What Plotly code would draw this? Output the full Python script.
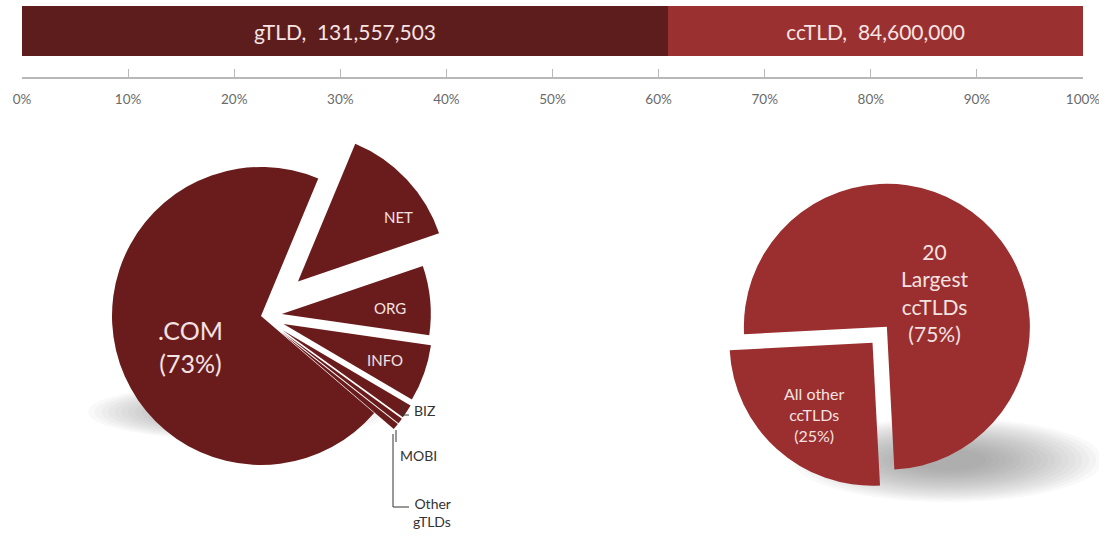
import plotly.graph_objects as go

# ---------------- data ----------------
tld_names = ["gTLD", "ccTLD"]
tld_counts = [131557503, 84600000]
tld_colors = ["#5e1d1d", "#9a3030"]

tick_vals = [0, 10, 20, 30, 40, 50, 60, 70, 80, 90, 100]
tick_text = ["0%", "10%", "20%", "30%", "40%", "50%", "60%", "70%", "80%", "90%", "100%"]

gtld_names = ["NET", "ORG", "INFO", "BIZ", "MOBI", "Other gTLDs", ".COM"]
gtld_share = [13.5, 7.5, 6.2, 1.5, 0.6, 0.7, 70.0]
gtld_pull = [0.34, 0.14, 0.16, 0.17, 0.17, 0.17, 0]

cctld_names = ["20 Largest ccTLDs", "All other ccTLDs"]
cctld_share = [75, 25]
cctld_pull = [0.03, 0.12]

W, H = 1099, 538
FONT = "Lato"


def px(x):
    return x / W


def py(y):
    return 1 - y / H


fig = go.Figure()

# ---------------- top stacked bar ----------------
for name, cnt, col in zip(tld_names, tld_counts, tld_colors):
    fig.add_trace(go.Bar(
        x=[cnt], y=[0], orientation="h", name=name, width=1,
        marker=dict(color=col, line=dict(width=0)),
        text=[f"{name},  {cnt:,}"], textposition="inside",
        insidetextanchor="middle",
        textfont=dict(family=FONT, size=21, color="#f6e4e4"),
        hoverinfo="skip", showlegend=False,
    ))

fig.update_layout(
    barmode="stack", barnorm="percent", bargap=0,
    xaxis=dict(domain=[px(22), px(1083)], range=[0, 100],
               tickvals=tick_vals, ticktext=tick_text,
               ticks="inside", ticklen=8, tickcolor="#b8b8b8",
               showline=True, linecolor="#b8b8b8", linewidth=1.5,
               showgrid=False, zeroline=False, fixedrange=True,
               automargin=False, ticklabeloverflow="allow",
               tickfont=dict(family=FONT, size=13.5, color="#6a6a6a"),
               ticklabelstandoff=9),
    yaxis=dict(domain=[py(77), py(6)], range=[-0.92, 0.5], visible=False,
               automargin=False),
)

# ---------------- left pie (gTLDs) ----------------
cxL, cyL, RL = 261, 316, 149
sL = RL * (1 + max(gtld_pull))
fig.add_trace(go.Pie(
    labels=gtld_names, values=gtld_share,
    textinfo="none", sort=False, direction="clockwise", rotation=22.6,
    pull=gtld_pull,
    marker=dict(colors=["#6a1c1c"] * len(gtld_names), line=dict(width=0)),
    domain=dict(x=[px(cxL - sL), px(cxL + sL)], y=[py(cyL + sL), py(cyL - sL)]),
    hoverinfo="skip", showlegend=False,
))

# ---------------- right pie (ccTLDs) ----------------
cxR, cyR, RR = 884, 330, 143
sR = RR * (1 + max(cctld_pull))
fig.add_trace(go.Pie(
    labels=cctld_names, values=cctld_share,
    textinfo="none", sort=False, direction="clockwise", rotation=267,
    pull=cctld_pull,
    marker=dict(colors=["#9b2e2e", "#9b2e2e"], line=dict(width=0)),
    domain=dict(x=[px(cxR - sR), px(cxR + sR)], y=[py(cyR + sR), py(cyR - sR)]),
    hoverinfo="skip", showlegend=False,
))

# ---------------- shadows (layered soft ellipses) ----------------
shapes = []


def shadow(cx, cy, rx, ry, steps=18, alpha=0.045):
    for i in range(steps):
        f = 1 - i / steps * 0.8
        shapes.append(dict(type="circle", xref="paper", yref="paper", layer="below",
                           x0=px(cx - rx * f), x1=px(cx + rx * f),
                           y0=py(cy + ry * f), y1=py(cy - ry * f),
                           fillcolor=f"rgba(110,110,110,{alpha})", line=dict(width=0)))


shadow(238, 412, 150, 28)
shadow(948, 460, 155, 42)

# leader lines for small slices
line_style = dict(color="#333333", width=1)
for pts in [[(402, 404), (402, 415), (409, 415)],
            [(396, 430), (396, 442)],
            [(393, 434), (393, 507), (409, 507)]]:
    d = "M " + " L ".join(f"{px(a):.5f},{py(b):.5f}" for a, b in pts)
    shapes.append(dict(type="path", xref="paper", yref="paper", path=d, line=line_style))

# ---------------- labels ----------------
light = "#f3e2e2"
annotations = [
    dict(text=".COM<br>(73%)", x=px(190), y=py(346), size=25, color=light, align="center"),
    dict(text="NET", x=px(398), y=py(217), size=15, color=light, align="center"),
    dict(text="ORG", x=px(390), y=py(308), size=15, color=light, align="center"),
    dict(text="INFO", x=px(385), y=py(360), size=15, color=light, align="center"),
    dict(text="BIZ", x=px(424), y=py(410), size=14, color="#333333", align="center"),
    dict(text="MOBI", x=px(418), y=py(455), size=14, color="#333333", align="center"),
    dict(text="Other<br>gTLDs", x=px(432), y=py(512), size=14, color="#333333", align="right"),
    dict(text="20<br>Largest<br>ccTLDs<br>(75%)", x=px(935), y=py(292), size=21, color=light, align="center"),
    dict(text="All other<br>ccTLDs<br>(25%)", x=px(814), y=py(414), size=16, color=light, align="center"),
]
for a in annotations:
    size = a.pop("size")
    color = a.pop("color")
    a.update(xref="paper", yref="paper", showarrow=False,
             xanchor="center", yanchor="middle",
             font=dict(family=FONT, size=size, color=color))

fig.update_layout(
    width=W, height=H, margin=dict(l=0, r=0, t=0, b=0, autoexpand=False),
    paper_bgcolor="white", plot_bgcolor="white",
    shapes=shapes, annotations=annotations,
)

fig.write_html("out.html")
